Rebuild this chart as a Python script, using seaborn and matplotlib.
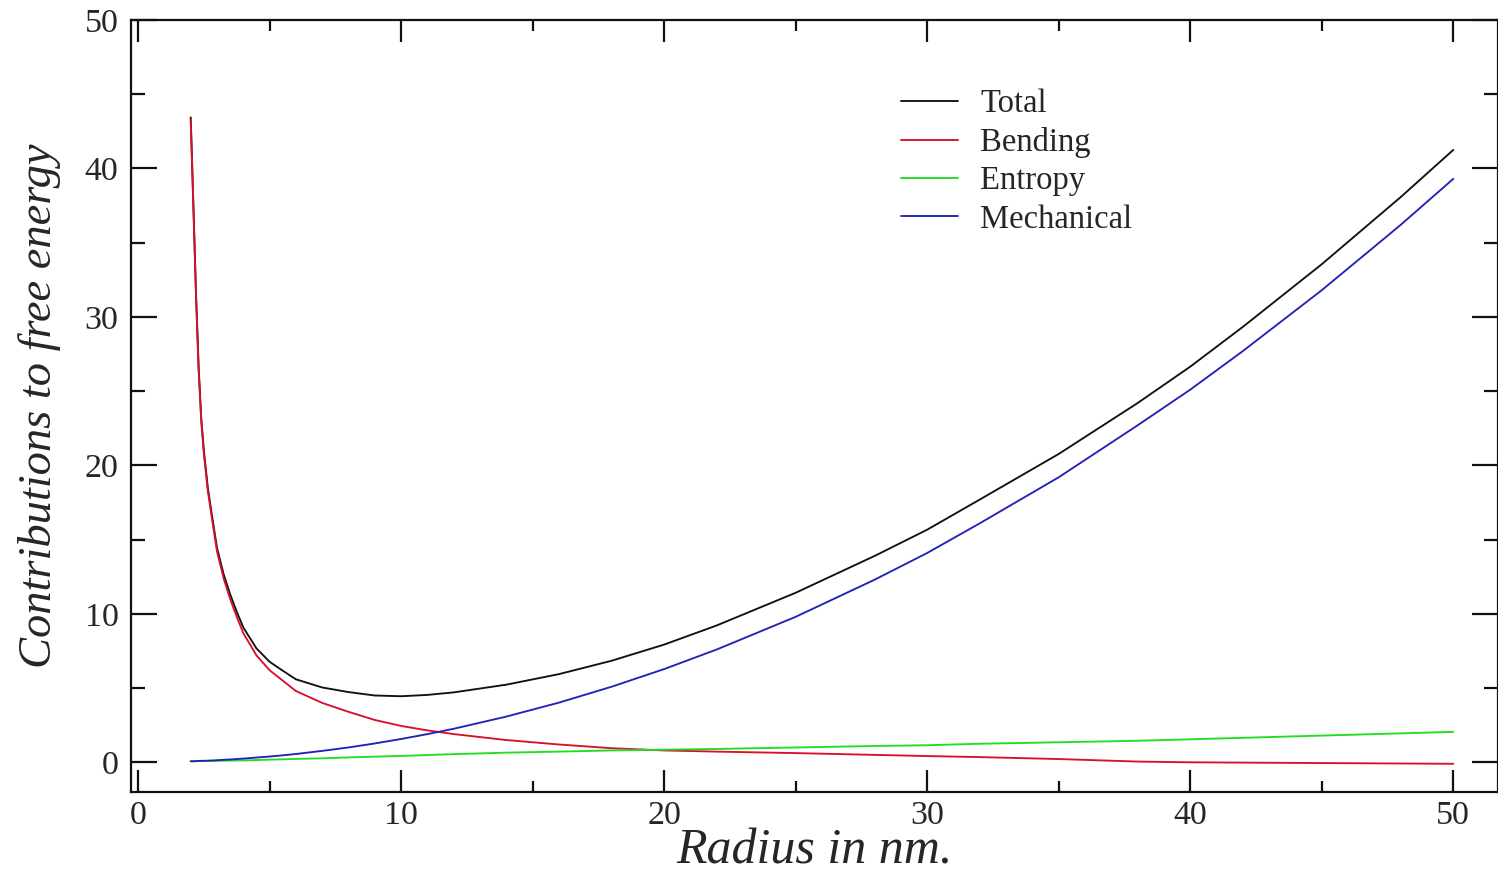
import matplotlib
matplotlib.use("Agg")
import matplotlib.pyplot as plt
from matplotlib.ticker import MultipleLocator
import numpy as np
import pandas as pd
import seaborn as sns

# === data ===
RADIUS = [2.0, 2.1, 2.2, 2.3, 2.4, 2.5, 2.65, 2.8, 3.0, 3.25, 3.5, 3.75, 4.0, 4.5,
          5.0, 5.5, 6.0, 7.0, 8.0, 9.0, 10.0, 11.0, 12.0, 14.0, 16.0, 18.0, 20.0,
          22.0, 25.0, 28.0, 30.0, 32.0, 35.0, 38.0, 40.0, 42.0, 45.0, 48.0, 50.0]

BENDING = [43.3, 37.5, 31.5, 26.5, 23.0, 20.8, 18.3, 16.5, 14.2, 12.4, 11.0, 9.8, 8.7, 7.2,
           6.2, 5.5, 4.8, 4.0, 3.4, 2.85, 2.45, 2.15, 1.9, 1.5, 1.2, 0.95, 0.8,
           0.72, 0.62, 0.5, 0.42, 0.35, 0.22, 0.05, 0.0, -0.02, -0.05, -0.08, -0.1]

MECHANICAL = [0.07, 0.07, 0.08, 0.09, 0.1, 0.1, 0.11, 0.12, 0.14, 0.17, 0.19, 0.22, 0.25, 0.32,
              0.39, 0.47, 0.56, 0.77, 1.0, 1.27, 1.57, 1.9, 2.26, 3.08, 4.02, 5.09, 6.28,
              7.6, 9.8, 12.3, 14.1, 16.1, 19.2, 22.7, 25.1, 27.7, 31.8, 36.2, 39.3]

ENTROPY = [0.07, 0.07, 0.08, 0.08, 0.08, 0.09, 0.09, 0.09, 0.1, 0.11, 0.12, 0.12, 0.13, 0.15,
           0.18, 0.2, 0.23, 0.27, 0.33, 0.38, 0.43, 0.49, 0.55, 0.65, 0.72, 0.8, 0.85,
           0.9, 1.0, 1.1, 1.15, 1.25, 1.35, 1.45, 1.55, 1.65, 1.8, 1.95, 2.05]

TOTAL = [43.44, 37.64, 31.66, 26.67, 23.18, 20.99, 18.5, 16.71, 14.44, 12.68, 11.31, 10.14, 9.08, 7.67,
         6.77, 6.17, 5.59, 5.04, 4.73, 4.5, 4.45, 4.54, 4.71, 5.23, 5.94, 6.84, 7.93,
         9.22, 11.42, 13.9, 15.67, 17.7, 20.77, 24.2, 26.65, 29.33, 33.55, 38.07, 41.25]

SERIES_ORDER = ["Total", "Bending", "Entropy", "Mechanical"]
COLORS = {"Total": "#111111", "Bending": "#d8102c", "Entropy": "#22dd22", "Mechanical": "#2222b8"}

X_TICKS = [0, 10, 20, 30, 40, 50]
Y_TICKS = [0, 10, 20, 30, 40, 50]

# long-form frame for seaborn
frames = []
for name, values in zip(SERIES_ORDER, [TOTAL, BENDING, ENTROPY, MECHANICAL]):
    frames.append(pd.DataFrame({"radius": RADIUS, "energy": values, "series": name}))
df = pd.concat(frames, ignore_index=True)

sns.set_style("ticks")
plt.rcParams['font.family'] = ['Liberation Serif', 'DejaVu Serif']

fig = plt.figure(figsize=(14.98, 8.76), dpi=100)
ax = fig.add_axes([131 / 1498, 1 - 792 / 876, 1 - 131 / 1498, (792 - 20) / 876])

sns.lineplot(data=df, x="radius", y="energy", hue="series", hue_order=SERIES_ORDER,
             palette=COLORS, estimator=None, linewidth=1.35, ax=ax)

ax.set_xlim(-0.27, 51.7)
ax.set_ylim(-2, 50)
ax.set_xticks(X_TICKS)
ax.set_yticks(Y_TICKS)
ax.xaxis.set_minor_locator(MultipleLocator(5))
ax.yaxis.set_minor_locator(MultipleLocator(5))

for s in ax.spines.values():
    s.set_linewidth(1.6)
    s.set_color("#111111")

ax.tick_params(axis="both", which="both", direction="in", top=True, right=True,
               width=1.6, color="#111111", labelsize=24.5)
ax.tick_params(axis="x", which="major", length=16, pad=6)
ax.tick_params(axis="x", which="minor", length=8)
ax.tick_params(axis="y", which="major", length=19, pad=9)
ax.tick_params(axis="y", which="minor", length=10)

# x label: baseline placed just above the bottom edge, like the reference
xlab = ax.set_xlabel("Radius in nm.", fontsize=36, style="italic")
xlab.set_verticalalignment("baseline")
ax.xaxis.set_label_coords(0.5, -(864 - 792) / 772)
ax.set_ylabel("Contributions to free energy", fontsize=33.5, style="italic", labelpad=17)

handles, labels = ax.get_legend_handles_labels()
ax.legend(handles, labels, loc="upper left", bbox_to_anchor=(0.5536, 0.928), frameon=False,
          fontsize=23.5, handlelength=1.75, handletextpad=0.68, labelspacing=0.24,
          borderaxespad=0)

fig.savefig("out.png", dpi=100)
